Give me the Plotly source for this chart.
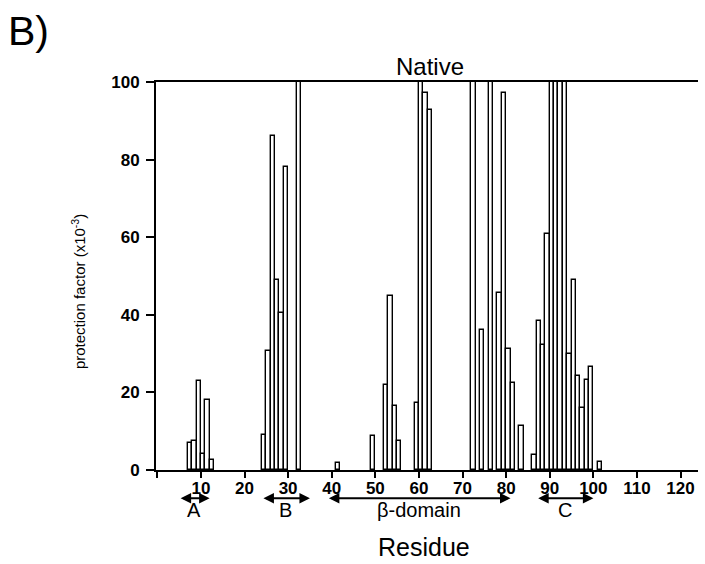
import plotly.graph_objects as go

# Data
residues = [7, 8, 9, 10, 11, 12,
            24, 25, 26, 27, 28, 29, 32,
            41,
            49, 52, 53, 54, 55,
            59, 60, 61, 62,
            72, 74, 76, 78, 79, 80, 81, 83,
            86, 87, 88, 89, 90, 91, 92, 93, 94, 95, 96, 97, 98, 99, 101]
protection = [7.0, 7.6, 23.0, 4.0, 18.0, 2.5,
              9.0, 30.7, 86.0, 48.9, 40.5, 78.0, 100,
              1.9,
              8.8, 21.8, 44.8, 16.6, 7.6,
              17.3, 100, 97.2, 92.7,
              100, 36.2, 100, 45.5, 97.2, 31.3, 22.5, 11.3,
              3.9, 38.5, 32.2, 60.9, 100, 100, 100, 100, 29.9, 48.9, 24.2, 15.9, 23.2, 26.6, 2.0]

x_ticks = [0, 10, 20, 30, 40, 50, 60, 70, 80, 90, 100, 110, 120]
x_ticktext = ["", "10", "20", "30", "40", "50", "60", "70", "80", "90", "100", "110", "120"]
y_ticks = [0, 20, 40, 60, 80, 100]

domains = ["A", "B", "β-domain", "C"]
dom_start = [5, 24, 39, 87]
dom_end = [12, 35, 81, 100]

FONT = "Liberation Sans, Arial, sans-serif"

fig = go.Figure()
fig.add_trace(go.Bar(
    x=residues, y=protection, width=1, offset=0,
    marker=dict(color="white", line=dict(color="black", width=1.4)),
    showlegend=False,
))

fig.update_layout(
    width=705, height=564,
    margin=dict(l=156, r=7, t=82, b=94),
    paper_bgcolor="white", plot_bgcolor="white",
    bargap=0,
    xaxis=dict(range=[-0.3, 124], tickvals=x_ticks, ticktext=x_ticktext,
               showline=True, linecolor="black", linewidth=2, mirror=True,
               ticks="outside", ticklen=6, tickwidth=2, tickcolor="black",
               showgrid=False, zeroline=False, ticklabelstandoff=-4,
               tickfont=dict(family=FONT, size=17, color="black", weight="bold")),
    yaxis=dict(range=[0, 100], tickvals=y_ticks,
               showline=True, linecolor="black", linewidth=2,
               ticks="outside", ticklen=8, tickwidth=2, tickcolor="black",
               showgrid=False, zeroline=False, ticklabelstandoff=3,
               tickfont=dict(family=FONT, size=17, color="black", weight="bold")),
)

ann = []
ann.append(dict(text="B)", xref="paper", yref="paper", x=-0.276, y=1.131,
                xanchor="left", yanchor="middle", showarrow=False,
                font=dict(family=FONT, size=41, color="black")))
ann.append(dict(text="Native", xref="paper", yref="paper", x=0.5055, y=1.041,
                xanchor="center", yanchor="middle", showarrow=False,
                font=dict(family=FONT, size=24, color="black")))
ann.append(dict(text="Residue", xref="paper", yref="paper", x=0.494, y=-0.198,
                xanchor="center", yanchor="middle", showarrow=False,
                font=dict(family=FONT, size=25, color="black")))
ann.append(dict(text="protection factor (x10<sup>-3</sup>)", xref="paper", yref="paper",
                x=-0.144, y=0.461, textangle=-90,
                xanchor="center", yanchor="middle", showarrow=False,
                font=dict(family=FONT, size=15, color="black")))

for name, s, e in zip(domains, dom_start, dom_end):
    ann.append(dict(text="", x=e, y=-0.073, xref="x", yref="paper",
                    ax=s, ay=0, axref="x", ayref="pixel",
                    showarrow=True, arrowside="end+start", arrowhead=2,
                    arrowsize=1.05, arrowwidth=2, arrowcolor="black",
                    standoff=0, startstandoff=0))
    ann.append(dict(text=name, x=(s + e) / 2, y=-0.104, xref="x", yref="paper",
                    xanchor="center", yanchor="middle", showarrow=False,
                    font=dict(family=FONT, size=20, color="black")))

fig.update_layout(annotations=ann)
fig.write_html("out.html")
